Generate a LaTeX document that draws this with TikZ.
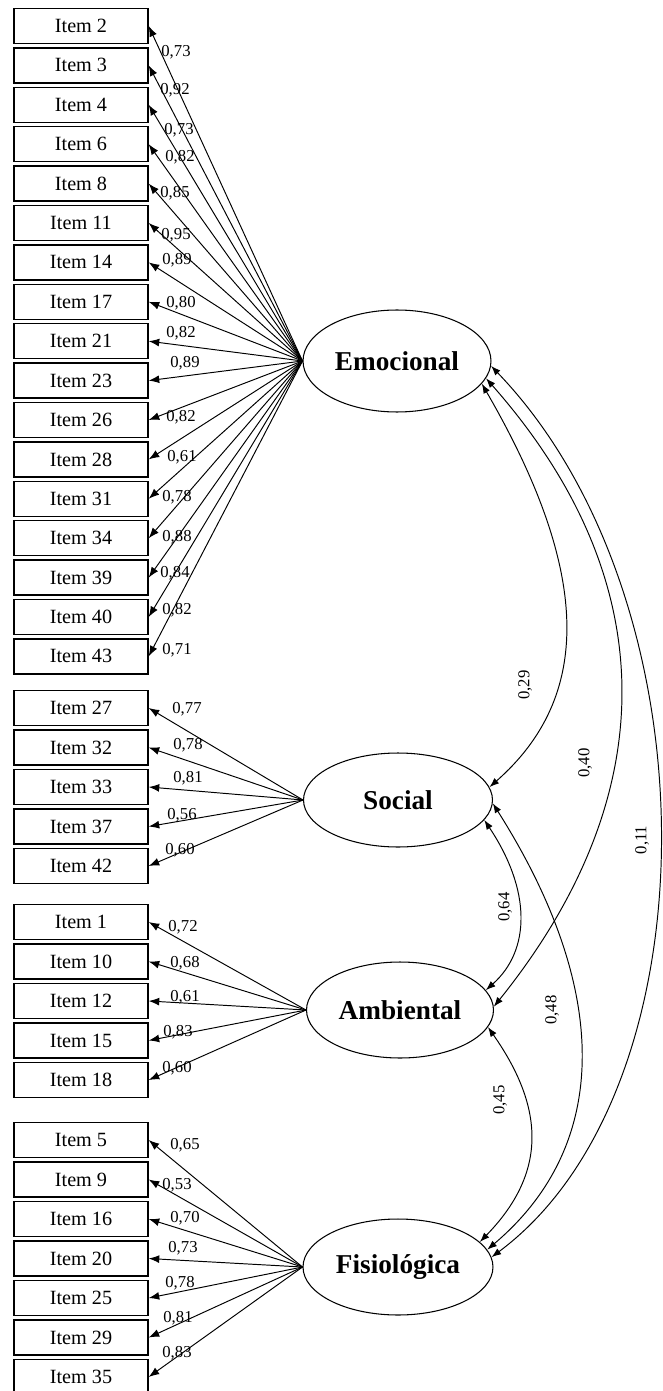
\documentclass[tikz,border=0pt]{standalone}
\usepackage{fontspec}
\setmainfont{Liberation Serif}
\usetikzlibrary{shapes.geometric, arrows.meta}
\tikzstyle{item} = [draw, line width=0.8pt, minimum width=2.68cm, minimum height=0.7cm, inner sep=0pt, font=\fontsize{11.5}{12}\selectfont]
\tikzstyle{factor} = [draw, ellipse, line width=0.6pt, inner sep=0pt, font=\fontsize{15.5}{16}\selectfont\bfseries]
\tikzstyle{load} = [->, >={Latex[length=6pt,width=4.5pt]}, line width=0.55pt]
\tikzstyle{cov} = [<->, >={Latex[length=5.5pt,width=4pt]}, line width=0.55pt]
\tikzstyle{lbl} = [inner sep=0pt, font=\fontsize{9.5}{10}\selectfont]

\begin{document}
\begin{tikzpicture}[x=0.02cm, y=-0.02cm]
    \useasboundingbox (0,0) rectangle (662,1391);
    \clip (0,0) rectangle (662,1391);
    % factors
    \node[factor, minimum width=3.76cm, minimum height=2.04cm] (emo) at (397,361) {Emocional};
    \node[factor, minimum width=3.78cm, minimum height=1.88cm] (soc) at (398,800) {Social};
    \node[factor, minimum width=3.74cm, minimum height=1.92cm] (amb) at (400,1010) {Ambiental};
    \node[factor, minimum width=3.80cm, minimum height=1.92cm] (fis) at (398,1267) {Fisiológica};
    % Emocional
        \node[item] (i2) at (81,26) {Item 2};   \draw[load] (emo.west) -- (i2.east);  \node[lbl] (l2) at (176,52) {0,73};
        \node[item] (i3) at (81,65.4) {Item 3}; \draw[load] (emo.west) -- (i3.east);  \node[lbl] (l3) at (175,90) {0,92};
        \node[item] (i4) at (81,104.8) {Item 4}; \draw[load] (emo.west) -- (i4.east); \node[lbl] (l4) at (179,130) {0,73};
        \node[item] (i6) at (81,144.2) {Item 6}; \draw[load] (emo.west) -- (i6.east); \node[lbl] (l6) at (180,157) {0,82};
        \node[item] (i8) at (81,183.6) {Item 8}; \draw[load] (emo.west) -- (i8.east); \node[lbl] (l8) at (175,193) {0,85};
        \node[item] (i11) at (81,223) {Item 11}; \draw[load] (emo.west) -- (i11.east); \node[lbl] (l11) at (176,235) {0,95};
        \node[item] (i14) at (81,262.4) {Item 14}; \draw[load] (emo.west) -- (i14.east); \node[lbl] (l14) at (177,260) {0,89};
        \node[item] (i17) at (81,301.8) {Item 17}; \draw[load] (emo.west) -- (i17.east); \node[lbl] (l17) at (181,303) {0,80};
        \node[item] (i21) at (81,341.2) {Item 21}; \draw[load] (emo.west) -- (i21.east); \node[lbl] (l21) at (181,333) {0,82};
        \node[item] (i23) at (81,380.6) {Item 23}; \draw[load] (emo.west) -- (i23.east); \node[lbl] (l23) at (185,363) {0,89};
        \node[item] (i26) at (81,420) {Item 26}; \draw[load] (emo.west) -- (i26.east); \node[lbl] (l26) at (181,417) {0,82};
        \node[item] (i28) at (81,459.4) {Item 28}; \draw[load] (emo.west) -- (i28.east); \node[lbl] (l28) at (182,457) {0,61};
        \node[item] (i31) at (81,498.8) {Item 31}; \draw[load] (emo.west) -- (i31.east); \node[lbl] (l31) at (177,497) {0,78};
        \node[item] (i34) at (81,538.2) {Item 34}; \draw[load] (emo.west) -- (i34.east); \node[lbl] (l34) at (177,537) {0,88};
        \node[item] (i39) at (81,577.6) {Item 39}; \draw[load] (emo.west) -- (i39.east); \node[lbl] (l39) at (175,573) {0,84};
        \node[item] (i40) at (81,617) {Item 40}; \draw[load] (emo.west) -- (i40.east); \node[lbl] (l40) at (177,610) {0,82};
        \node[item] (i43) at (81,656.4) {Item 43}; \draw[load] (emo.west) -- (i43.east); \node[lbl] (l43) at (177,650) {0,71};
    % Social
        \node[item] (i27) at (81,708) {Item 27}; \draw[load] (soc.west) -- (i27.east); \node[lbl] (l27) at (187,709) {0,77};
        \node[item] (i32) at (81,747.5) {Item 32}; \draw[load] (soc.west) -- (i32.east); \node[lbl] (l32) at (188,745) {0,78};
        \node[item] (i33) at (81,787) {Item 33}; \draw[load] (soc.west) -- (i33.east); \node[lbl] (l33) at (188,778) {0,81};
        \node[item] (i37) at (81,826.5) {Item 37}; \draw[load] (soc.west) -- (i37.east); \node[lbl] (l37) at (182,815) {0,56};
        \node[item] (i42) at (81,866) {Item 42}; \draw[load] (soc.west) -- (i42.east); \node[lbl] (l42) at (180,850) {0,60};
    % Ambiental
        \node[item] (i1) at (81,922) {Item 1}; \draw[load] (amb.west) -- (i1.east); \node[lbl] (l1) at (183,927) {0,72};
        \node[item] (i10) at (81,961.5) {Item 10}; \draw[load] (amb.west) -- (i10.east); \node[lbl] (l10) at (185,963) {0,68};
        \node[item] (i12) at (81,1001) {Item 12}; \draw[load] (amb.west) -- (i12.east); \node[lbl] (l12) at (185,997) {0,61};
        \node[item] (i15) at (81,1040.5) {Item 15}; \draw[load] (amb.west) -- (i15.east); \node[lbl] (l15) at (178,1032) {0,83};
        \node[item] (i18) at (81,1080) {Item 18}; \draw[load] (amb.west) -- (i18.east); \node[lbl] (l18) at (177,1068) {0,60};
    % Fisiologica
        \node[item] (i5) at (81,1140) {Item 5}; \draw[load] (fis.west) -- (i5.east); \node[lbl] (l5) at (185,1145) {0,65};
        \node[item] (i9) at (81,1179.5) {Item 9}; \draw[load] (fis.west) -- (i9.east); \node[lbl] (l9) at (177,1185) {0,53};
        \node[item] (i16) at (81,1219) {Item 16}; \draw[load] (fis.west) -- (i16.east); \node[lbl] (l16) at (185,1218) {0,70};
        \node[item] (i20) at (81,1258.5) {Item 20}; \draw[load] (fis.west) -- (i20.east); \node[lbl] (l20) at (183,1248) {0,73};
        \node[item] (i25) at (81,1298) {Item 25}; \draw[load] (fis.west) -- (i25.east); \node[lbl] (l25) at (180,1283) {0,78};
        \node[item] (i29) at (81,1337.5) {Item 29}; \draw[load] (fis.west) -- (i29.east); \node[lbl] (l29) at (178,1318) {0,81};
        \node[item] (i35) at (81,1377) {Item 35}; \draw[load] (fis.west) -- (i35.east); \node[lbl] (l35) at (177,1353) {0,83};
    % correlations
    \draw[cov] (emo.-15) .. controls (592,574) and (592,697) .. (soc.8);
    \draw[cov] (emo.-11) .. controls (664,580) and (664,795) .. (amb.2);
    \draw[cov] (emo.-3) .. controls (716,600) and (716,1090) .. (fis.6);
    \draw[cov] (soc.-13) .. controls (531,890) and (531,950) .. (amb.13);
    \draw[cov] (soc.-2) .. controls (611,990) and (611,1145) .. (fis.11);
    \draw[cov] (amb.-11) .. controls (546,1110) and (546,1174) .. (fis.17);
    \node[lbl, rotate=90] (c29) at (525,685) {0,29};
    \node[lbl, rotate=90] (c40) at (585,763) {0,40};
    \node[lbl, rotate=90] (c11) at (642,840) {0,11};
    \node[lbl, rotate=90] (c64) at (505,907) {0,64};
    \node[lbl, rotate=90] (c48) at (552,1010) {0,48};
    \node[lbl, rotate=90] (c45) at (500,1100) {0,45};
\end{tikzpicture}
\end{document}
